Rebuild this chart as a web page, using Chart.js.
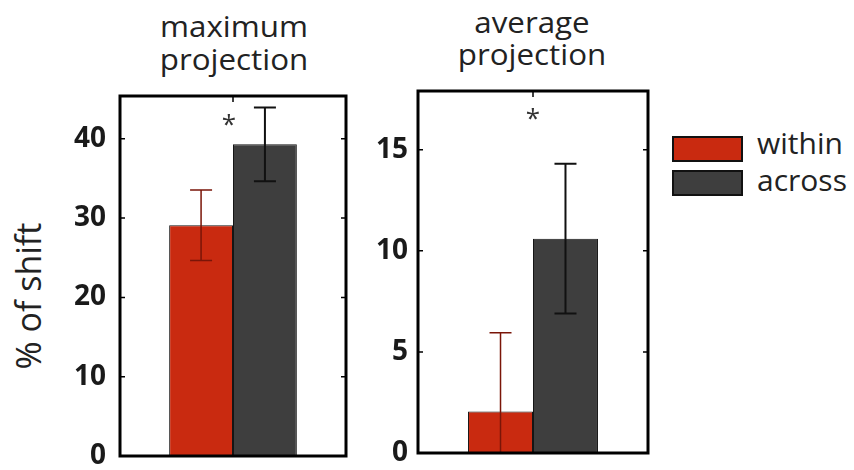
<!DOCTYPE html>
<html><head><meta charset="utf-8">
<script src="https://cdn.jsdelivr.net/npm/chart.js@4"></script>
<style>
html,body{margin:0;padding:0;background:#fff;}
body{width:854px;height:470px;position:relative;overflow:hidden;font-family:"Open Sans",sans-serif;color:#222;}
canvas{position:absolute;top:0;}
.title{position:absolute;text-align:center;font-size:29px;white-space:nowrap;transform:scaleX(1.08);}
.ytitle{position:absolute;font-size:34px;line-height:40px;height:40px;width:200px;text-align:center;white-space:nowrap;transform:rotate(-90deg);}
.lbox{position:absolute;width:67px;height:22px;border:2px solid #111;}
.ltext{position:absolute;font-size:30px;line-height:30px;white-space:nowrap;}
</style></head><body>
<div id="t1" class="title" style="left:134px;top:9px;width:200px;line-height:33px;"></div>
<div id="t2" class="title" style="left:432px;top:6px;width:200px;line-height:32px;"></div>
<div id="yt" class="ytitle" style="left:-72px;top:276px;"></div>
<div id="legend"></div>
<canvas id="c1" width="360" height="470" style="left:0;width:360px;height:470px;"></canvas>
<canvas id="c2" width="300" height="470" style="left:360px;width:300px;height:470px;"></canvas>
<script>
// ---- data ----
const categories = [''];
const seriesNames = ['within', 'across'];
const seriesColors = ['#c92a10', '#3e3e3e'];
const errorColors = ['#7a1508', '#111111'];
const maxValues = [29.1, 39.3];
const maxErrors = [4.45, 4.65];
const avgValues = [2.05, 10.6];
const avgErrors = [3.9, 3.7];
const maxTicks = [0, 10, 20, 30, 40];
const avgTicks = [0, 5, 10, 15];
const panelTitles = [['maximum', 'projection'], ['average', 'projection']];
const yAxisTitle = '% of shift';
const sigLabel = '*';
const sigHeights = [42.5, 16.8];

// ---- text ----
document.getElementById('t1').innerHTML = panelTitles[0].join('<br>');
document.getElementById('t2').innerHTML = panelTitles[1].join('<br>');
document.getElementById('yt').textContent = yAxisTitle;
const lg = document.getElementById('legend');
seriesNames.forEach((n, i) => {
  const b = document.createElement('div');
  b.className = 'lbox';
  b.style.left = '672px'; b.style.top = (136 + i * 34) + 'px';
  b.style.background = seriesColors[i];
  lg.appendChild(b);
  const t = document.createElement('div');
  t.className = 'ltext';
  t.style.left = '757px'; t.style.top = (128 + i * 37) + 'px';
  t.textContent = n;
  lg.appendChild(t);
});

const panelPlugin = {
  id: 'panel',
  afterDatasetsDraw(chart, args, opts) {
    const ctx = chart.ctx, a = chart.chartArea, y = chart.scales.y;
    ctx.save();
    // error bars
    chart.data.datasets.forEach((ds, i) => {
      const meta = chart.getDatasetMeta(i);
      meta.data.forEach((bar, j) => {
        const v = ds.data[j], e = opts.errors[i][j];
        const yt = y.getPixelForValue(v + e);
        const lowV = v - e;
        const yb = y.getPixelForValue(Math.max(lowV, y.min));
        ctx.strokeStyle = errorColors[i];
        ctx.lineWidth = i === 0 ? 1.5 : 2;
        ctx.beginPath();
        ctx.moveTo(bar.x, yt); ctx.lineTo(bar.x, yb);
        ctx.moveTo(bar.x - 11, yt); ctx.lineTo(bar.x + 11, yt);
        if (lowV > y.min) { ctx.moveTo(bar.x - 11, yb); ctx.lineTo(bar.x + 11, yb); }
        ctx.stroke();
      });
    });
    // frame
    ctx.strokeStyle = '#000';
    ctx.lineWidth = 3;
    ctx.strokeRect(a.left, a.top, a.right - a.left, a.bottom - a.top);
    ctx.lineWidth = 1.5;
    ctx.beginPath();
    y.ticks.forEach(t => {
      const py = y.getPixelForValue(t.value);
      if (py <= a.top + 2 || py >= a.bottom - 2) return;
      ctx.moveTo(a.left, py); ctx.lineTo(a.left + 5, py);
      ctx.moveTo(a.right, py); ctx.lineTo(a.right - 5, py);
    });
    const cx = chart.scales.x.getPixelForValue(0);
    ctx.moveTo(cx, a.top); ctx.lineTo(cx, a.top + 6);
    ctx.stroke();
    // significance mark
    ctx.fillStyle = '#333';
    ctx.font = '26px "Open Sans"';
    ctx.textAlign = 'center';
    ctx.textBaseline = 'alphabetic';
    ctx.fillText(sigLabel, cx - opts.sigShift, y.getPixelForValue(opts.sig) + 14);
    ctx.restore();
  }
};

function makePanel(id, values, errors, ticks, ymax, pad, axisW, tickPad, sig, sigShift) {
  return new Chart(document.getElementById(id), {
    type: 'bar',
    data: {
      labels: categories,
      datasets: seriesNames.map((n, i) => ({
        label: n,
        data: [values[i]],
        backgroundColor: seriesColors[i],
        borderColor: '#151515',
        borderWidth: 1,
        borderSkipped: false,
        barPercentage: 1,
        categoryPercentage: 0.565
      }))
    },
    options: {
      responsive: false,
      animation: false,
      events: [],
      layout: { padding: pad },
      plugins: {
        legend: { display: false },
        tooltip: { enabled: false },
        panel: { errors: errors.map(e => [e]), sig: sig, sigShift: sigShift }
      },
      scales: {
        x: { display: false },
        y: {
          min: 0, max: ymax,
          afterBuildTicks: s => { s.ticks = ticks.map(v => ({ value: v })); },
          afterFit: s => { s.width = axisW; s.paddingTop = 0; s.paddingBottom = 0; },
          grid: { display: false, drawTicks: false },
          border: { display: false },
          ticks: {
            padding: tickPad,
            color: '#1a1a1a',
            font: { family: '"Open Sans"', size: 28, weight: 'bold' }
          }
        }
      }
    },
    plugins: [panelPlugin]
  });
}

makePanel('c1', maxValues, maxErrors, maxTicks, 45.4,
  { left: 60, right: 14, top: 96, bottom: 14 }, 60, 14, sigHeights[0], 4);
makePanel('c2', avgValues, avgErrors, avgTicks, 17.9,
  { left: 10, right: 12, top: 91, bottom: 17 }, 48, 10, sigHeights[1], 0);
</script>
</body></html>
